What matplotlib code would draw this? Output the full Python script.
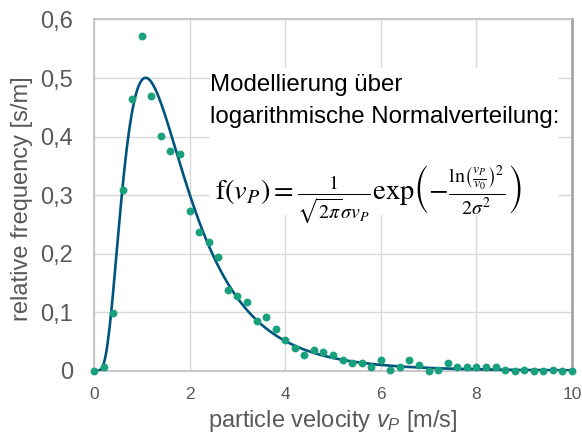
import numpy as np
import matplotlib
matplotlib.use('Agg')
import matplotlib.pyplot as plt
from matplotlib.patches import Rectangle

plt.rcParams['font.family'] = ['Liberation Sans', 'DejaVu Sans']
plt.rcParams['mathtext.fontset'] = 'custom'
plt.rcParams['mathtext.rm'] = 'Liberation Sans'
plt.rcParams['mathtext.it'] = 'Liberation Sans:italic'

# gemessene Häufigkeiten (Klassenbreite 0,2 m/s)
v_meas = [0.0, 0.2, 0.4, 0.6, 0.8, 1.0, 1.2, 1.4, 1.6, 1.8,
          2.0, 2.2, 2.4, 2.6, 2.8, 3.0, 3.2, 3.4, 3.6, 3.8,
          4.0, 4.2, 4.4, 4.6, 4.8, 5.0, 5.2, 5.4, 5.6, 5.8,
          6.0, 6.2, 6.4, 6.6, 6.8, 7.0, 7.2, 7.4, 7.6, 7.8,
          8.0, 8.2, 8.4, 8.6, 8.8, 9.0, 9.2, 9.4, 9.6, 9.8, 10.0]
f_meas = [0.0, 0.006, 0.098, 0.309, 0.464, 0.572, 0.470, 0.401, 0.375, 0.371,
          0.273, 0.237, 0.220, 0.194, 0.138, 0.127, 0.118, 0.085, 0.091, 0.071,
          0.052, 0.039, 0.026, 0.036, 0.032, 0.026, 0.019, 0.013, 0.013, 0.006,
          0.019, 0.002, 0.006, 0.019, 0.009, 0.0, 0.002, 0.013, 0.006, 0.006,
          0.006, 0.006, 0.006, 0.002, 0.0, 0.002, 0.0, 0.0, 0.002, 0.0, 0.0]

# Parameter der Lognormal-Anpassung
v0 = 1.571
sigma = 0.612

x_ticks = [0, 2, 4, 6, 8, 10]
y_ticks = [0, 0.1, 0.2, 0.3, 0.4, 0.5, 0.6]
y_ticklabels = ['0', '0,1', '0,2', '0,3', '0,4', '0,5', '0,6']

v_fit = np.linspace(0.02, 10, 500)
f_fit = 1 / (np.sqrt(2 * np.pi) * sigma * v_fit) * np.exp(-np.log(v_fit / v0) ** 2 / (2 * sigma ** 2))

fig = plt.figure(figsize=(5.82, 4.36), dpi=100)
ax = fig.add_axes([0.1615, 0.1498, 0.8213, 0.8055])

ax.plot(v_fit, f_fit, color='#00557f', lw=1.9, zorder=3)
ax.scatter(v_meas, f_meas, s=32, color='#19a07c', zorder=4, clip_on=False, linewidths=0)

ax.set_xlim(0, 10)
ax.set_ylim(0, 0.6)
ax.set_xticks(x_ticks)
ax.set_yticks(y_ticks)
ax.set_yticklabels(y_ticklabels)
ax.tick_params(axis='x', length=0, pad=12, labelsize=12.5, labelcolor='#595959')
ax.tick_params(axis='y', length=0, pad=15, labelsize=17, labelcolor='#595959')

ax.grid(True, color='#d9d9d9', lw=1)
ax.set_axisbelow(True)
for side in ['left', 'bottom', 'top']:
    ax.spines[side].set_color('#bfbfbf')
    ax.spines[side].set_linewidth(1.2)
ax.spines['right'].set_color('#a6a6a6')
ax.spines['right'].set_linewidth(2)

ax.set_xlabel(r'particle velocity $\mathit{v}_\mathit{P}$ [m/s]', fontsize=17, color='#595959', labelpad=4)
ax.set_ylabel('relative frequency [s/m]', fontsize=17, color='#595959')
ax.yaxis.set_label_coords(-0.128, 0.49)

# weißes Textfeld
ax.add_patch(Rectangle((0.243, 0.443), 0.728, 0.42, transform=ax.transAxes,
                       facecolor='white', edgecolor='none', zorder=1))
ax.text(0.243, 0.795, 'Modellierung über', transform=ax.transAxes,
        fontsize=17.3, va='baseline', ha='left', color='black', zorder=5)
ax.text(0.243, 0.705, 'logarithmische Normalverteilung:', transform=ax.transAxes,
        fontsize=17.3, va='baseline', ha='left', color='black', zorder=5)
ax.text(0.253, 0.488,
        r'$\mathrm{f}(v_P) = \frac{1}{\sqrt{2\pi}\sigma v_P}\mathrm{exp}\left(-\frac{\mathrm{ln}\left(\frac{v_P}{v_0}\right)^2}{2\sigma^2}\right)$',
        transform=ax.transAxes, fontsize=20.5, va='baseline', ha='left', color='black', zorder=5,
        math_fontfamily='stix')

fig.savefig('out.png', dpi=100)
